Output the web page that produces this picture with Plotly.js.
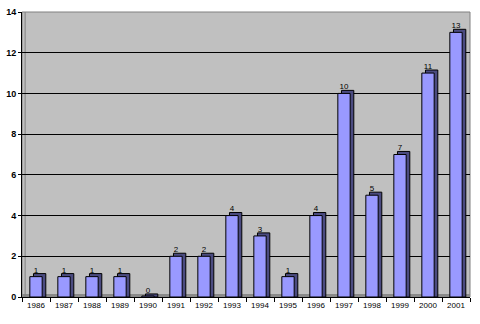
<!DOCTYPE html>
<html>
<head>
<meta charset="utf-8">
<script src="https://cdn.plot.ly/plotly-3.0.1.min.js"></script>
<style>html,body{margin:0;padding:0;background:#fff;}#chart{width:480px;height:324px;}</style>
</head>
<body>
<div id="chart"></div>
<script>
const years = ["1986","1987","1988","1989","1990","1991","1992","1993","1994","1995","1996","1997","1998","1999","2000","2001"];
const values = [1,1,1,1,0,2,2,4,3,1,4,10,5,7,11,13];
const yTicks = [0,2,4,6,8,10,12,14];

const depth = 0.15; // visual 3D depth in value units
const shadow = {
  type: 'bar', x: years, y: values.map(v => v + depth),
  width: 0.44, offset: -0.22 + 0.13,
  marker: {color: '#4b4b80', line: {color: '#000', width: 1}},
  hoverinfo: 'skip', showlegend: false
};
const front = {
  type: 'bar', x: years, y: values.map(v => Math.max(v, 0.05)),
  width: 0.44, offset: -0.22,
  marker: {color: '#9999ff', line: {color: '#000', width: 1}},
  showlegend: false
};
const labels = {
  type: 'scatter', mode: 'text', x: years, y: values.map(v => v + 0.3),
  text: values.map(String), textposition: 'middle center',
  textfont: {family: 'Liberation Sans, Arial, sans-serif', size: 8, color: '#000'},
  hoverinfo: 'skip', showlegend: false, cliponaxis: false
};

const layout = {
  width: 480, height: 324,
  margin: {l: 22, r: 10, t: 12, b: 27},
  paper_bgcolor: '#ffffff', plot_bgcolor: '#c0c0c0',
  barmode: 'overlay',
  font: {family: 'Liberation Sans, Arial, sans-serif', color: '#000'},
  xaxis: {
    type: 'category', showgrid: false, zeroline: false,
    showline: true, linecolor: '#000', linewidth: 1,
    ticks: 'outside', tickson: 'boundaries', ticklen: 4, tickcolor: '#000',
    tickfont: {size: 8, family: 'Liberation Sans, Arial, sans-serif'},
    range: [-0.5, 15.5]
  },
  yaxis: {
    range: [0, 14], tickvals: yTicks, ticktext: yTicks.map(String),
    showgrid: true, gridcolor: '#000', gridwidth: 1, zeroline: false,
    showline: true, linecolor: '#000', linewidth: 1,
    ticks: 'outside', ticklen: 3, tickcolor: '#000',
    tickfont: {size: 9, family: 'Liberation Sans, Arial, sans-serif', weight: 'bold'}
  },
  shapes: [
    {type: 'rect', xref: 'paper', yref: 'paper', x0: 0, x1: 1, y0: 0, y1: 1,
     line: {color: '#808080', width: 1}, fillcolor: 'rgba(0,0,0,0)', layer: 'below'},
    {type: 'rect', xref: 'paper', yref: 'y', x0: 0, x1: 1, y0: 0, y1: 0.15,
     line: {width: 0}, fillcolor: '#8a8a8a', layer: 'below'},
    {type: 'line', xref: 'paper', yref: 'paper', x0: 0.007, x1: 0.007, y0: 0, y1: 1,
     line: {color: '#808080', width: 1}, layer: 'below'}
  ]
};

Plotly.newPlot('chart', [shadow, front, labels], layout, {displayModeBar: false, staticPlot: true});
</script>
</body>
</html>
